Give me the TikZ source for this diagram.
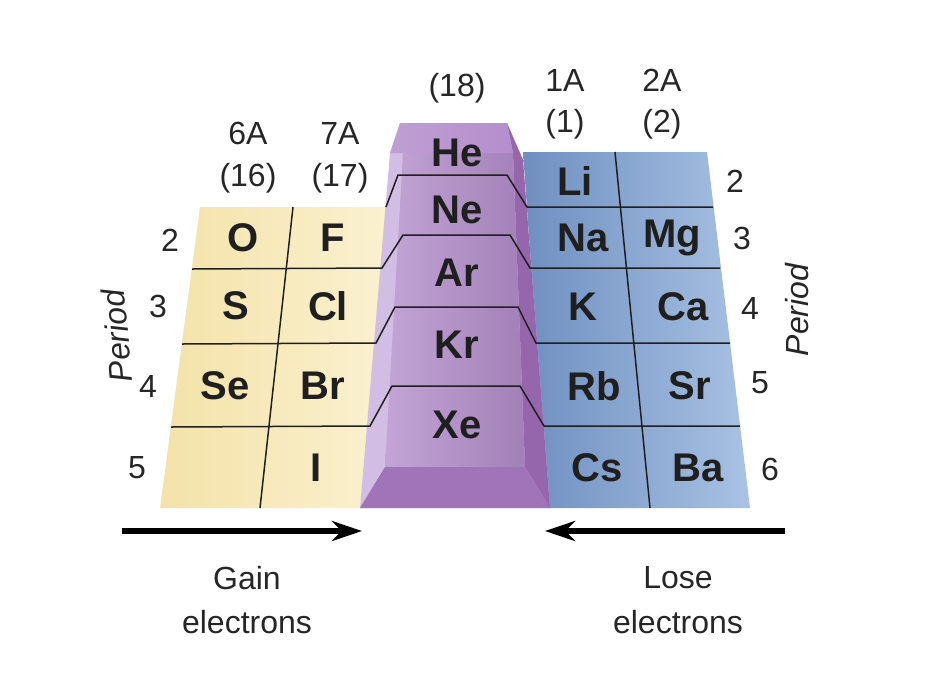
\documentclass[tikz,border=0pt]{standalone}
\usepackage{fontspec}
\setmainfont{Liberation Sans}
\usetikzlibrary{arrows.meta}
\definecolor{ylA}{HTML}{F3E2A8}
\definecolor{ylB}{HTML}{FBF1D0}
\definecolor{blA}{HTML}{6F8FC0}
\definecolor{blB}{HTML}{A9C2E4}
\definecolor{puF}{HTML}{B48ECC}
\definecolor{puL}{HTML}{D2BDE4}
\definecolor{puR}{HTML}{9566AC}
\definecolor{puB}{HTML}{A173B8}
\begin{document}
\begin{tikzpicture}[x=1pt,y=-1pt,
  el/.style={font=\fontsize{40}{40}\selectfont\bfseries,text=black!88},
  lab/.style={font=\fontsize{32}{34}\selectfont,text=black!85},
  grid/.style={line width=1.5pt,black!88},
  bigarrow/.style={line width=6pt,-{Stealth[length=30pt,width=20pt]}}]
\useasboundingbox (0,0) rectangle (934,673);
% yellow block
\shade[left color=ylA,right color=ylB] (200,207)--(386,207)--(360,508)--(160,508)--cycle;
% blue block
\shade[left color=blA,right color=blB] (523,152)--(707,152)--(750,508)--(548,508)--cycle;
% purple block
\fill[puL] (400,123)--(507,123)--(523,160)--(550,508)--(360,508)--(390,153)--cycle;
\fill[puR] (507,123)--(523,160)--(550,508)--(525,467)--(513,153)--cycle;
\shade[left color=puF!80!white,right color=puF!90!black] (403,153)--(513,153)--(525,467)--(385,467)--cycle;
\shade[left color=puF!85!white,right color=puF] (400,123)--(507,123)--(513,153)--(403,153)--(390,153)--cycle;
\fill[puB] (385,467)--(525,467)--(550,508)--(360,508)--cycle;
% grid lines
\draw[grid] (293,207)--(260,508);
\draw[grid] (615,152)--(650,508);
\draw[grid] (386,207)--(398,175)--(507,175)--(527,207)--(713,207);
\draw[grid] (192,269)--(382,268)--(403,235)--(510,235)--(530,268)--(720,268);
\draw[grid] (182,344)--(376,343)--(395,307)--(518,307)--(536,343)--(730,343);
\draw[grid] (171,427)--(370,426)--(392,386)--(520,386)--(544,426)--(740,426);
% elements
\node[el] (O) at (243,238) {O};
\node[el] (F) at (333,238) {F};
\node[el] (S) at (236,306) {S};
\node[el] (Cl) at (328,306) {Cl};
\node[el] (Se) at (225,386) {Se};
\node[el] (Br) at (323,386) {Br};
\node[el] (I) at (316,468) {I};
\node[el] (He) at (457,153) {He};
\node[el] (Ne) at (457,210) {Ne};
\node[el] (Ar) at (457,273) {Ar};
\node[el] (Kr) at (457,345) {Kr};
\node[el] (Xe) at (457,425) {Xe};
\node[el] (Li) at (575,181) {Li};
\node[el] (Na) at (583,238) {Na};
\node[el] (Mg) at (672,238) {Mg};
\node[el] (K) at (583,307) {K};
\node[el] (Ca) at (683,307) {Ca};
\node[el] (Rb) at (594,386) {Rb};
\node[el] (Sr) at (690,386) {Sr};
\node[el] (Cs) at (597,468) {Cs};
\node[el] (Ba) at (698,468) {Ba};
% group labels
\node[lab] (g6) at (248,133) {6A};
\node[lab] (g16) at (248,178) {(16)};
\node[lab] (g7) at (340,133) {7A};
\node[lab] (g17) at (340,178) {(17)};
\node[lab] (g18) at (457,88) {(18)};
\node[lab] (g1) at (565,80) {1A};
\node[lab] (g1b) at (565,124) {(1)};
\node[lab] (g2) at (662,80) {2A};
\node[lab] (g2b) at (662,124) {(2)};
% period numbers
\node[lab] (pl2) at (170,240) {2};
\node[lab] (pl3) at (158,306) {3};
\node[lab] (pl4) at (148,386) {4};
\node[lab] (pl5) at (137,468) {5};
\node[lab] (pr2) at (735,181) {2};
\node[lab] (pr3) at (742,238) {3};
\node[lab] (pr4) at (750,308) {4};
\node[lab] (pr5) at (760,383) {5};
\node[lab] (pr6) at (770,469) {6};
\node[lab,rotate=95,font=\fontsize{32}{34}\selectfont\itshape] (pL) at (117,336) {Period};
\node[lab,rotate=90,font=\fontsize{32}{34}\selectfont\itshape] (pR) at (797,310) {Period};
% arrows
\coordinate (a1) at (122,531); \coordinate (a2) at (362,531);
\coordinate (b1) at (785,531); \coordinate (b2) at (545,531);
\draw[bigarrow] (a1)--(a2);
\draw[bigarrow] (b1)--(b2);
\node[lab] (gain) at (247,578) {Gain};
\node[lab] (gain2) at (247,622) {electrons};
\node[lab] (lose) at (678,578) {Lose};
\node[lab] (lose2) at (678,622) {electrons};
\end{tikzpicture}
\end{document}
